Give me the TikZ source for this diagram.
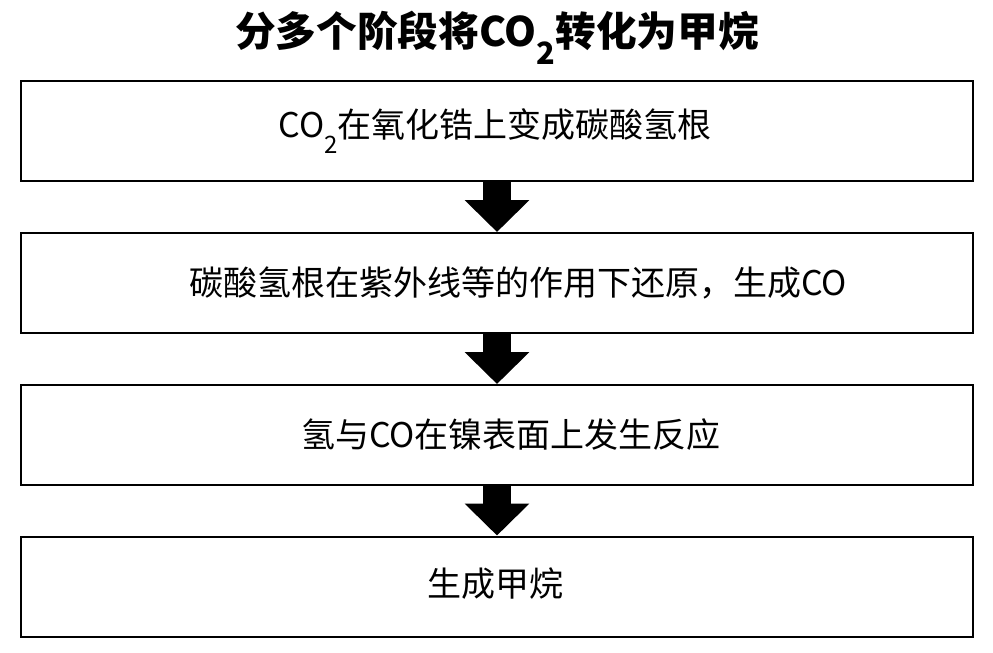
\documentclass[tikz,border=0pt]{standalone}
\usepackage{fontspec}
\setmainfont{Noto Sans CJK SC}
\usetikzlibrary{arrows.meta}
\newcommand{\subtwo}[1]{\raisebox{-0.45em}{\fontsize{#1}{#1}\selectfont 2}}
\begin{document}
\begin{tikzpicture}[x=0.75pt,y=-0.75pt,
  stagebox/.style={draw=black,line width=1.5pt,fill=white,minimum width=714pt,minimum height=75pt,inner sep=0pt},
  stagetext/.style={inner sep=0pt,font=\fontsize{25.5pt}{30pt}\selectfont},
  titletext/.style={inner sep=0pt,font=\fontsize{30.5pt}{36pt}\selectfont\bfseries},
  blockarrow/.style={line width=21pt,-{Triangle[width=47.25pt,length=24pt]},black}]
\useasboundingbox (0,0) rectangle (993,653);
\fill[white] (0,0) rectangle (993,653);
\node[titletext] (title) at (497,38) {分多个阶段将CO\subtwo{23pt}转化为甲烷};
\node[stagebox] (b1) at (497,131) {};
\node[stagebox] (b2) at (497,283) {};
\node[stagebox] (b3) at (497,435) {};
\node[stagebox] (b4) at (497,586.5) {};
\draw[blockarrow] (b1.south) -- (b2.north);
\draw[blockarrow] (b2.south) -- (b3.north);
\draw[blockarrow] (b3.south) -- (b4.north);
\node[stagetext] (t1) at (495,131) {CO\subtwo{18pt}在氧化锆上变成碳酸氢根};
\node[stagetext] (t2) at (518,283) {碳酸氢根在紫外线等的作用下还原，生成CO};
\node[stagetext] (t3) at (511,435) {氢与CO在镍表面上发生反应};
\node[stagetext] (t4) at (495,584) {生成甲烷};
\end{tikzpicture}
\end{document}
